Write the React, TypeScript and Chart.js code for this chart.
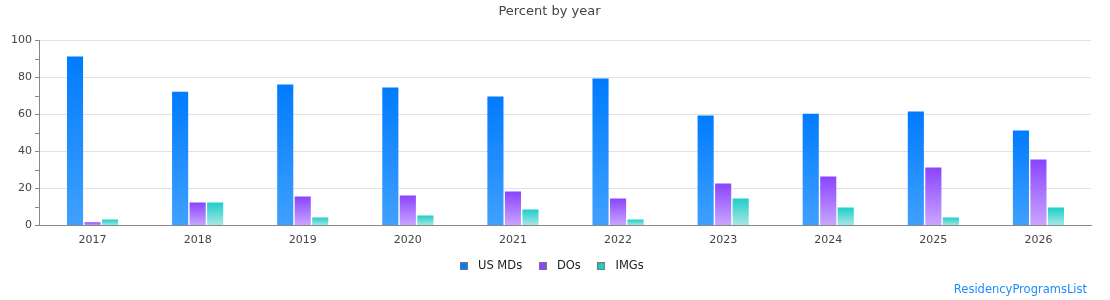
import React, { useEffect, useRef } from "react";
import { Chart, registerables } from "chart.js";

Chart.register(...registerables);

const years = ["2017", "2018", "2019", "2020", "2021", "2022", "2023", "2024", "2025", "2026"];
const usMDs = [91.4, 72.4, 76.2, 74.6, 69.7, 79.5, 59.5, 60.5, 61.6, 51.4];
const dOs = [1.8, 12.4, 15.7, 16.2, 18.4, 14.6, 22.7, 26.5, 31.4, 35.7];
const imgs = [3.2, 12.4, 4.3, 5.4, 8.6, 3.2, 14.6, 9.7, 4.3, 9.7];
const seriesNames = ["US MDs", "DOs", "IMGs"];
const topColors = ["#007bff", "#8a44ff", "#1ccfc9"];
const bottomColors = ["#40a0ff", "#c9a6ff", "#a9e7e5"];
const yTicks = [0, 20, 40, 60, 80, 100];

const FONT = "'DejaVu Sans', sans-serif";

function gradientFor(idx: number) {
  return (ctx: any) => {
    const chart = ctx.chart;
    const area = chart.chartArea;
    if (!area || ctx.raw === undefined || ctx.raw === null) return topColors[idx];
    const y = chart.scales.y;
    const top = y.getPixelForValue(ctx.raw);
    const bottom = y.getPixelForValue(0);
    if (!isFinite(top) || !isFinite(bottom) || bottom - top < 0.5) return topColors[idx];
    const g = chart.ctx.createLinearGradient(0, top, 0, bottom);
    g.addColorStop(0, topColors[idx]);
    g.addColorStop(1, bottomColors[idx]);
    return g;
  };
}

function swatch(color: string) {
  const c = document.createElement("canvas");
  c.width = 8;
  c.height = 8;
  const x = c.getContext("2d") as CanvasRenderingContext2D;
  x.fillStyle = color;
  x.fillRect(0, 0, 8, 8);
  x.strokeStyle = "#777";
  x.lineWidth = 1;
  x.strokeRect(0.5, 0.5, 7, 7);
  return c;
}

const watermark = {
  id: "watermark",
  afterDraw(chart: any) {
    const c = chart.ctx;
    c.save();
    c.font = "11.5px " + FONT;
    c.fillStyle = "#1a8cff";
    c.textAlign = "right";
    c.textBaseline = "middle";
    c.fillText("ResidencyProgramsList", chart.width - 23, 290);
    c.restore();
  },
};

export default function App() {
  const ref = useRef<HTMLCanvasElement | null>(null);
  useEffect(() => {
    document.body.style.margin = "0";
    const values = [usMDs, dOs, imgs];
    const swatches = topColors.map(swatch);
    const chart = new Chart(ref.current as HTMLCanvasElement, {
      type: "bar",
      data: {
        labels: years,
        datasets: values.map((v, i) => ({
          label: seriesNames[i],
          data: v,
          backgroundColor: gradientFor(i),
          borderWidth: 0,
          categoryPercentage: 0.5,
          barPercentage: 0.92,
        })),
      },
      options: {
        animation: false,
        responsive: false,
        devicePixelRatio: 1,
        layout: { padding: { left: 8, right: 19, top: 0, bottom: 18 } },
        plugins: {
          title: {
            display: true,
            text: "Percent by year",
            color: "#444",
            font: { family: FONT, size: 13, weight: "normal" },
            padding: { top: 4, bottom: 21 },
          },
          legend: {
            position: "bottom",
            labels: {
              usePointStyle: true,
              pointStyleWidth: 17,
              boxHeight: 8,
              padding: 12,
              color: "#222",
              font: { family: FONT, size: 11.5 },
              generateLabels: () =>
                seriesNames.map((n, i) => ({
                  text: n,
                  fillStyle: topColors[i],
                  strokeStyle: "#777",
                  lineWidth: 1,
                  pointStyle: swatches[i],
                  hidden: false,
                  datasetIndex: i,
                  fontColor: "#222",
                })),
            },
          },
          tooltip: { enabled: false },
        },
        scales: {
          x: {
            grid: { display: false, drawTicks: false },
            border: { color: "#888", width: 1 },
            ticks: { color: "#444", font: { family: FONT, size: 11 }, padding: 8 },
            afterFit: (s: any) => {
              s.height = 23;
            },
          },
          y: {
            min: 0,
            max: 100,
            ticks: {
              stepSize: 10,
              color: "#444",
              font: { family: FONT, size: 11 },
              padding: 3,
              callback: (v: any) => (yTicks.includes(Number(v)) ? String(v) : ""),
            },
            grid: {
              color: (c: any) => (c.tick && yTicks.includes(c.tick.value) && c.tick.value !== 0 ? "#e2e2e2" : "rgba(0,0,0,0)"),
              tickColor: "#888",
              tickLength: 5,
              drawOnChartArea: true,
            },
            border: { color: "#888", width: 1 },
          },
        },
      },
      plugins: [watermark],
    } as any);
    return () => chart.destroy();
  }, []);
  return <canvas ref={ref} width={1110} height={300} style={{ display: "block" }} />;
}
